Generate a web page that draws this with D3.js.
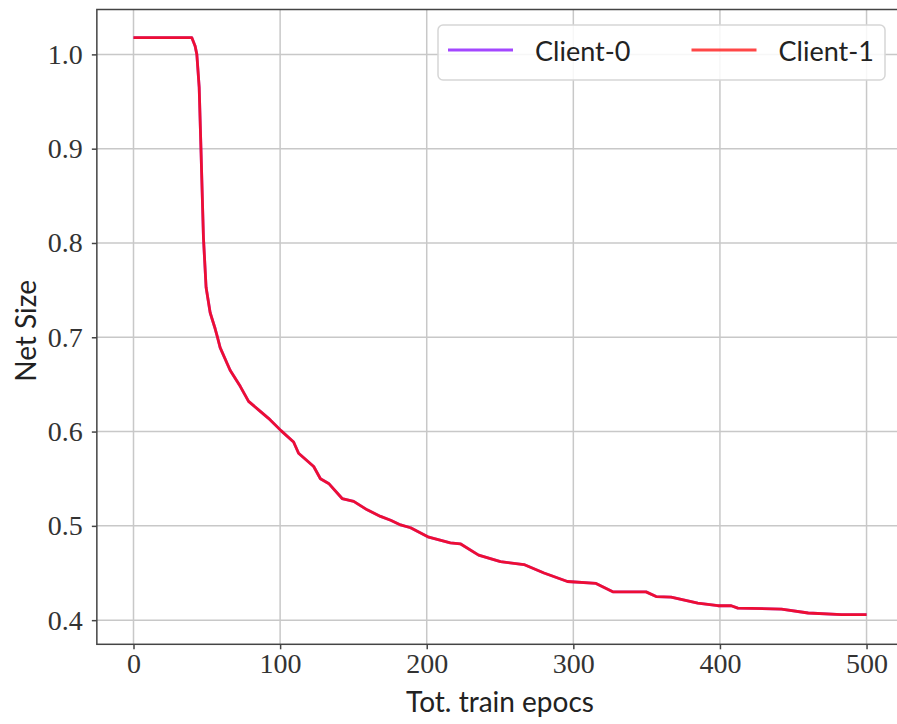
<!DOCTYPE html>
<html>
<head>
<meta charset="utf-8">
<script src="https://cdn.jsdelivr.net/npm/d3@7"></script>
<style>
  body { margin: 0; background: #fff; }
  svg { display: block; }
  .tick text { font-family: "Liberation Serif", serif; font-size: 28px; fill: #333; }
  .label { font-family: Lato, sans-serif; font-size: 28px; fill: #222; }
  .legend-label { font-family: Lato, sans-serif; font-size: 27px; fill: #222; }
</style>
</head>
<body>
<svg id="chart" width="897" height="724"></svg>
<script>
// epochs (both clients overlap exactly)
const epochs = [0, 39.8, 42, 43.2, 44.8, 46.1, 47.7, 49.5, 52.3, 55.7, 57.3, 59.1, 65.9, 72.8,
  78.5, 85.3, 92.1, 100.6, 109.2, 112.6, 122.9, 127.5, 133.1, 142.3, 150.2, 159.4, 168.5,
  175.4, 182.2, 189, 201.4, 216.1, 222.9, 235.4, 250.3, 266.3, 280, 296, 315.5, 326.9,
  349.6, 356.5, 366.7, 384.9, 398.6, 407.7, 412.2, 442, 460.2, 482.9, 500];

const client0 = [1.0177, 1.0177, 1.009, 1.0, 0.965, 0.895, 0.806, 0.753, 0.726, 0.709, 0.700,
  0.689, 0.665, 0.648, 0.632, 0.623, 0.614, 0.601, 0.589, 0.577, 0.563, 0.550, 0.545, 0.529,
  0.526, 0.517, 0.510, 0.506, 0.501, 0.498, 0.488, 0.482, 0.481, 0.469, 0.462, 0.459, 0.450,
  0.441, 0.439, 0.430, 0.430, 0.425, 0.4245, 0.418, 0.4153, 0.4153, 0.4128, 0.4117, 0.4076,
  0.4058, 0.4058];

const client1 = [1.0177, 1.0177, 1.009, 1.0, 0.965, 0.895, 0.806, 0.753, 0.726, 0.709, 0.700,
  0.689, 0.665, 0.648, 0.632, 0.623, 0.614, 0.601, 0.589, 0.577, 0.563, 0.550, 0.545, 0.529,
  0.526, 0.517, 0.510, 0.506, 0.501, 0.498, 0.488, 0.482, 0.481, 0.469, 0.462, 0.459, 0.450,
  0.441, 0.439, 0.430, 0.430, 0.425, 0.4245, 0.418, 0.4153, 0.4153, 0.4128, 0.4117, 0.4076,
  0.4058, 0.4058];

const xTicks = [0, 100, 200, 300, 400, 500];
const yTicks = [0.4, 0.5, 0.6, 0.7, 0.8, 0.9, 1.0];
const seriesNames = ["Client-0", "Client-1"];
const seriesColors = ["#8000ff", "#ff0000"];

const svg = d3.select("#chart");
const plot = { left: 96.85, right: 903.2, top: 9.5, bottom: 644.3 };

const x = d3.scaleLinear().domain([-25, 525]).range([plot.left, plot.right]);
const y = d3.scaleLinear().domain([0.3744, 1.0476]).range([plot.bottom, plot.top]);

// grid
svg.append("g").selectAll("line").data(xTicks).enter().append("line")
  .attr("x1", d => x(d)).attr("x2", d => x(d))
  .attr("y1", plot.top).attr("y2", plot.bottom)
  .attr("stroke", "#c8c8c8").attr("stroke-width", 1.5);
svg.append("g").selectAll("line").data(yTicks).enter().append("line")
  .attr("x1", plot.left).attr("x2", plot.right)
  .attr("y1", d => y(d)).attr("y2", d => y(d))
  .attr("stroke", "#c8c8c8").attr("stroke-width", 1.5);

// lines (red drawn over purple)
const series = [client0, client1];
const opac = [0.72, 0.8];
const line = d3.line()
  .x((d, i) => x(epochs[i]))
  .y(d => y(d));

series.forEach((vals, k) => {
  svg.append("path")
    .datum(vals)
    .attr("d", line)
    .attr("fill", "none")
    .attr("stroke", seriesColors[k])
    .attr("stroke-opacity", opac[k])
    .attr("stroke-width", 2.8)
    .attr("stroke-linejoin", "round");
});

// frame
svg.append("rect")
  .attr("x", plot.left).attr("y", plot.top)
  .attr("width", plot.right - plot.left).attr("height", plot.bottom - plot.top)
  .attr("fill", "none").attr("stroke", "#444").attr("stroke-width", 1.5);

// axes
const xAxis = d3.axisBottom(x).tickValues(xTicks).tickSize(5).tickPadding(4)
  .tickFormat(d3.format("d"));
const yAxis = d3.axisLeft(y).tickValues(yTicks).tickSize(5).tickPadding(9)
  .tickFormat(d3.format(".1f"));

const gx = svg.append("g").attr("transform", `translate(0,${plot.bottom})`).call(xAxis);
const gy = svg.append("g").attr("transform", `translate(${plot.left},0)`).call(yAxis);
[gx, gy].forEach(g => {
  g.select(".domain").remove();
  g.selectAll(".tick line").attr("stroke", "#444").attr("stroke-width", 1.5);
  g.attr("font-family", null).attr("font-size", null);
});

// axis labels
svg.append("text")
  .attr("class", "label")
  .attr("x", 500)
  .attr("y", 712)
  .attr("text-anchor", "middle")
  .text("Tot. train epocs");

svg.append("text")
  .attr("class", "label")
  .attr("transform", `translate(36,${(plot.top + plot.bottom) / 2 + 4}) rotate(-90)`)
  .attr("text-anchor", "middle")
  .text("Net Size");

// legend
const legend = svg.append("g");
legend.append("rect")
  .attr("x", 438).attr("y", 25)
  .attr("width", 447).attr("height", 55)
  .attr("rx", 5)
  .attr("fill", "#fff").attr("fill-opacity", 0.85)
  .attr("stroke", "#d6d6d6").attr("stroke-width", 1.5);

const item = legend.selectAll(".item").data(seriesNames).enter().append("g")
  .attr("class", "item")
  .attr("transform", (d, i) => `translate(${448 + i * 243.5},0)`);
item.append("line")
  .attr("x1", 0).attr("x2", 65)
  .attr("y1", 50).attr("y2", 50)
  .attr("stroke", (d, i) => seriesColors[i])
  .attr("stroke-opacity", 0.72)
  .attr("stroke-width", 3);
item.append("text")
  .attr("class", "legend-label")
  .attr("x", 87)
  .attr("y", 61)
  .text(d => d);
</script>
</body>
</html>
